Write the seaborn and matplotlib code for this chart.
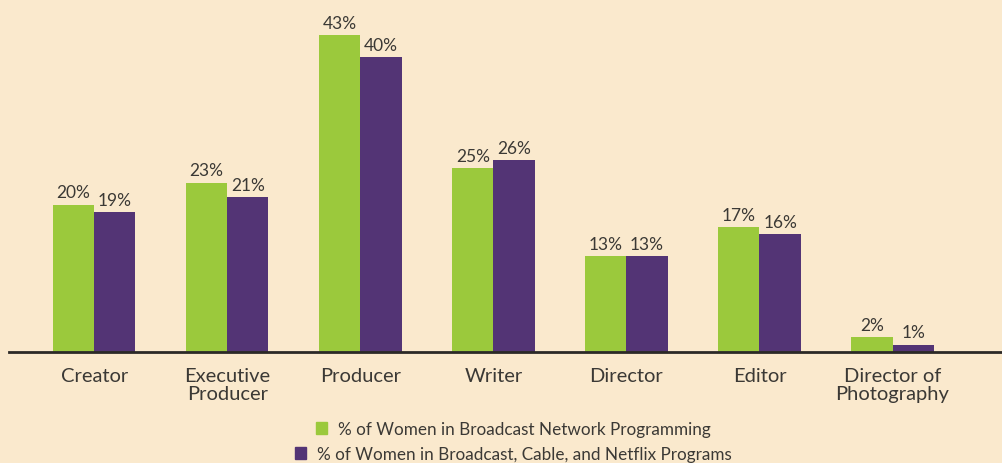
import matplotlib
matplotlib.use("Agg")
import matplotlib.pyplot as plt
import seaborn as sns
import pandas as pd
from matplotlib.patches import Patch

categories = ["Creator", "Executive\nProducer", "Producer", "Writer", "Director", "Editor", "Director of\nPhotography"]
series_names = ["% of Women in Broadcast Network Programming",
                "% of Women in Broadcast, Cable, and Netflix Programs"]
broadcast = [20, 23, 43, 25, 13, 17, 2]
all_programs = [19, 21, 40, 26, 13, 16, 1]

colors = ["#9BC93C", "#533475"]
bg = "#FAE9CD"
text_color = "#3b3935"

df = pd.DataFrame({
    "category": categories * 2,
    "series": [series_names[0]] * len(categories) + [series_names[1]] * len(categories),
    "value": broadcast + all_programs,
})

sns.set_theme(style="white")
plt.rcParams["font.family"] = ["Lato", "DejaVu Sans"]

fig = plt.figure(figsize=(10.03, 4.64), dpi=100, facecolor=bg)
ax = fig.add_axes([9 / 1003, (464 - 353) / 464, 1 - 9 / 1003, (353 - 14) / 464])
ax.set_facecolor(bg)

sns.barplot(data=df, x="category", y="value", hue="series", hue_order=series_names,
            order=categories, palette=colors, width=0.62, saturation=1,
            legend=False, ax=ax, linewidth=0)

for cont in ax.containers:
    ax.bar_label(cont, labels=[f"{int(v)}%" for v in cont.datavalues],
                 padding=3, fontsize=12.5, color=text_color)

ax.set_xlim(-0.64, 6.83)
ax.set_ylim(0, 46)
ax.set_xlabel("")
ax.set_ylabel("")
ax.set_yticks([])
for s in ["top", "right", "left"]:
    ax.spines[s].set_visible(False)
ax.spines["bottom"].set_color("#2b2926")
ax.spines["bottom"].set_linewidth(2)
ax.tick_params(axis="x", length=0, pad=11, labelsize=14.5, labelcolor=text_color)
for lbl in ax.get_xticklabels():
    lbl.set_linespacing(1.05)
    lbl.set_verticalalignment("top")

legend_kw = dict(frameon=False, fontsize=12.3, handlelength=0.7, handleheight=0.7,
                 handletextpad=0.6, labelcolor=text_color, borderpad=0, borderaxespad=0)
fig.legend(handles=[Patch(color=colors[0])], labels=[series_names[0]],
           loc="center", bbox_to_anchor=(513 / 1003, 1 - 430 / 464), **legend_kw)
fig.legend(handles=[Patch(color=colors[1])], labels=[series_names[1]],
           loc="center", bbox_to_anchor=(513 / 1003, 1 - 455 / 464), **legend_kw)

fig.savefig("out.png", dpi=100, facecolor=bg)
